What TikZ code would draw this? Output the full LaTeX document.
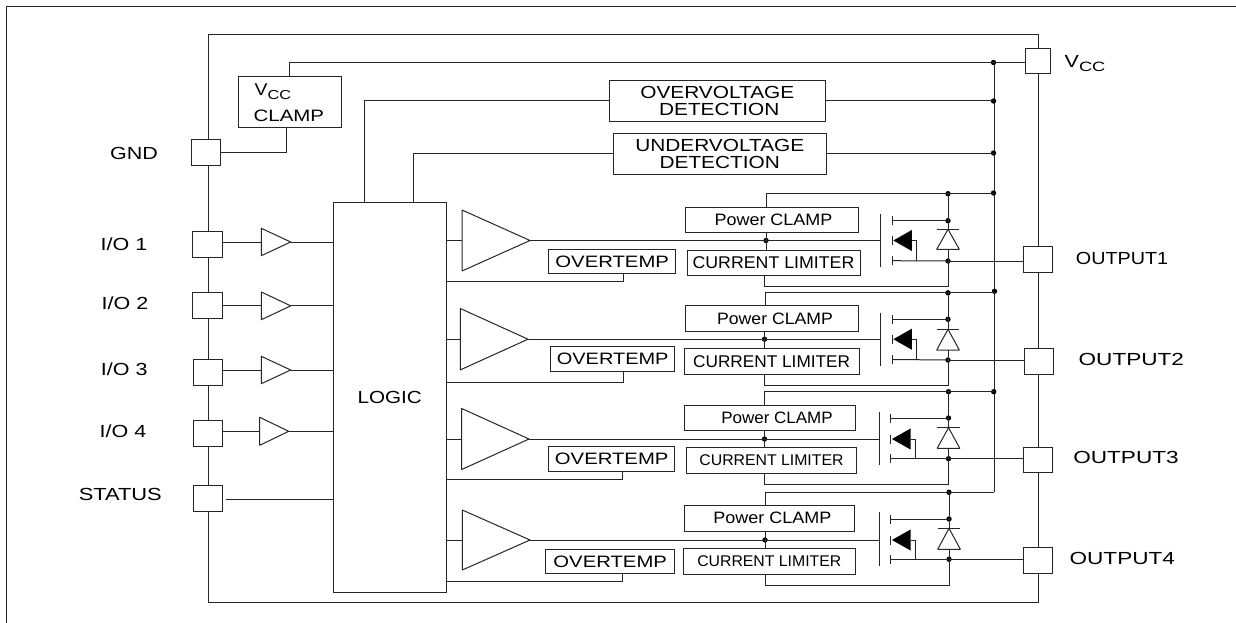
\documentclass[tikz,border=0pt]{standalone}
\usepackage{graphicx}
\usepackage{fontspec}
\setmainfont{Liberation Sans}
\newcommand\T[3]{{\fontsize{#1}{#1}\selectfont\scalebox{#2}[1]{#3}}}
\newcommand\bx[6]{\node[boxst,minimum width={(#4-#2)*1pt},minimum height={(#5-#3)*1pt}] (#1) at ({(#2+#4)/2},{(#3+#5)/2}) {#6};}
\newcommand\lab[4]{\node[labst] (#1) at (#2,#3) {#4};}
\newcommand\jn[3]{\coordinate (#1) at (#2,#3);\fill (#1) circle (2.7);}
% amplifier / buffer triangle: name, left x, top y, tip x, bottom y
\newcommand\amp[5]{\coordinate (#1in) at (#2,{(#3+#5)/2});\coordinate (#1out) at (#4,{(#3+#5)/2});
  \draw[wire,fill=white,line join=round] (#2,#3) -- (#1out) -- (#2,#5) -- cycle;}
% MOSFET: n, gate x, top, bottom, drain y, source y, mid y
\newcommand\fet[7]{\coordinate (#1g) at (#2,#7);\coordinate (#1d) at ({#2+11.7},#5);\coordinate (#1s) at ({#2+11.7},#6);
  \draw[wire] (#2,#3) -- (#2,#4);
  \draw[wire] ({#2+11.7},{#5-4.5}) -- ({#2+11.7},{#5+4.5});
  \draw[wire] ({#2+11.7},{#7-4.5}) -- ({#2+11.7},{#7+4.5});
  \draw[wire] ({#2+11.7},{#6-4.5}) -- ({#2+11.7},{#6+4.5});
  \fill ({#2+13},#7) -- ({#2+31.5},{#7-10.5}) -- ({#2+31.5},{#7+10.5}) -- cycle;
  \draw[wire] ({#2+31.5},#7) -- ({#2+36.3},#7) -- ({#2+36.3},#6);}
% diode: name, x, bar y, base y
\newcommand\dio[4]{\coordinate (#1a) at (#2,#3);\coordinate (#1k) at (#2,#4);
  \draw[wire] ({#2-11.3},#3) -- ({#2+11.3},#3);
  \draw[wire,line join=round] (#2,#3) -- ({#2-11.3},#4) -- ({#2+11.3},#4) -- cycle;}
\tikzset{
  wire/.style={line width=1pt,draw=black!85},
  boxst/.style={draw=black!85,line width=1pt,fill=white,inner sep=0pt,outer sep=0pt,align=center,text=black},
  labst/.style={inner sep=0pt,outer sep=0pt,text=black,align=center}
}
\begin{document}
\begin{tikzpicture}[x=1pt,y=-1pt]
\useasboundingbox (0,0) rectangle (1236,623);
\fill[white] (0,0) rectangle (1236,623);
% outer frame and chip outline
\coordinate (fa) at (6.5,623);\coordinate (fb) at (6.5,7);\coordinate (fc) at (1236,7);
\draw[wire] (fa) -- (fb) -- (fc);
\coordinate (ca) at (208.5,34.7);\coordinate (cb) at (1038,34.7);\coordinate (cc) at (1038,602.5);\coordinate (cd) at (208.5,602.5);
\draw[wire] (ca) -- (cb) -- (cc) -- (cd) -- cycle;

% bus
\coordinate (bt) at (994,62.5);\coordinate (bb) at (994,492.3);
\draw[wire] (bt) -- (bb);

% pins
\bx{pgnd}{191.7}{139.3}{220.7}{165}{}
\bx{pio1}{192.7}{231.7}{222}{257.3}{}
\bx{pio2}{192.7}{292.3}{222}{318}{}
\bx{pio3}{193.7}{359.7}{222.7}{385}{}
\bx{pio4}{193.7}{420.3}{222.7}{446}{}
\bx{psta}{193.7}{485.7}{222.7}{511.3}{}
\bx{pvcc}{1025}{48.3}{1050.3}{74}{}
\bx{pou1}{1023.3}{246.7}{1052.7}{272.3}{}
\bx{pou2}{1024.3}{348.3}{1053.3}{374.3}{}
\bx{pou3}{1023.7}{447}{1052.7}{472.7}{}
\bx{pou4}{1023.7}{547.3}{1052.3}{573.3}{}

% blocks
\bx{clamp}{238.3}{77}{341}{127.3}{%
 \begin{minipage}{72pt}\raggedright\vspace*{1.5pt}\hspace*{1pt}\T{17}{1.14}{V}\raisebox{-3.5pt}{\T{13}{1.25}{CC}}\\[10pt]\T{16.5}{1.24}{CLAMP}\end{minipage}}
\bx{ov}{609}{81}{825.5}{121.3}{\T{17.5}{1.19}{OVERVOLTAGE}\\[3.5pt]\hspace*{4pt}\T{17.5}{1.19}{DETECTION}}
\bx{uv}{613}{133.3}{826.5}{174.3}{\T{17.5}{1.19}{UNDERVOLTAGE}\\[4pt]\T{17.5}{1.19}{DETECTION}}
\bx{logic}{333.3}{202}{446}{592.7}{\T{17.5}{1.18}{LOGIC}}

% row 1
\bx{pc1}{685.7}{207.3}{858.3}{232.7}{\hspace*{3pt}\T{16.5}{1.09}{Power CLAMP}}
\bx{cl1}{687}{250}{860}{275.7}{\T{17}{1.045}{CURRENT LIMITER}}
\bx{ot1}{548.7}{249.3}{675.7}{273.7}{\T{16.5}{1.23}{OVERTEMP}}
% row 2
\bx{pc2}{685.7}{305.7}{858.3}{331.3}{\hspace*{6pt}\T{16.5}{1.07}{Power CLAMP}}
\bx{cl2}{684.3}{348.3}{859}{374.3}{\T{17}{1.014}{CURRENT LIMITER}}
\bx{ot2}{550.7}{346.3}{674.7}{371}{\T{16.5}{1.21}{OVERTEMP}}
% row 3
\bx{pc3}{684.3}{405}{855.7}{430.7}{\hspace*{14pt}\T{16.5}{1.03}{Power CLAMP}}
\bx{cl3}{686.7}{447.7}{856.3}{473.3}{\T{15.5}{1.02}{CURRENT LIMITER}}
\bx{ot3}{548.7}{446.3}{674.7}{471}{\T{16.5}{1.23}{OVERTEMP}}
% row 4
\bx{pc4}{684.3}{505.3}{854.3}{531}{\hspace*{6pt}\T{16.5}{1.09}{Power CLAMP}}
\bx{cl4}{683.3}{548.3}{855.3}{574}{\T{15.5}{1.02}{CURRENT LIMITER}}
\bx{ot4}{545.7}{549.3}{674.7}{573.7}{\T{16.5}{1.23}{OVERTEMP}}

% input buffers
\amp{b1}{261.3}{228.3}{290.7}{255.7}
\amp{b2}{261.3}{292}{290.7}{319.7}
\amp{b3}{261.3}{356.3}{290.7}{383.7}
\amp{b4}{259.7}{417.3}{288.7}{445.3}
\draw[wire] (pio1.east |- b1in) -- (b1in);\draw[wire] (b1out) -- (logic.west |- b1out);
\draw[wire] (pio2.east |- b2in) -- (b2in);\draw[wire] (b2out) -- (logic.west |- b2out);
\draw[wire] (pio3.east |- b3in) -- (b3in);\draw[wire] (b3out) -- (logic.west |- b3out);
\draw[wire] (pio4.east |- b4in) -- (b4in);\draw[wire] (b4out) -- (logic.west |- b4out);
\coordinate (stat) at (225.7,499.3);
\draw[wire] (stat) -- (logic.west |- stat);

% output amplifiers
\amp{a1}{462}{210}{530}{271}
\amp{a2}{460.3}{308.5}{528}{369.9}
\amp{a3}{461.7}{408.5}{529}{469.5}
\amp{a4}{462.3}{510}{530}{570}
\foreach \n in {1,2,3,4}{\draw[wire] (logic.east |- a\n in) -- (a\n in);}

% overtemp returns
\draw[wire] (ot1.south -| 623.3,0) -- (623.3,281) -- (logic.east |- 0,281);
\draw[wire] (ot2.south -| 623.7,0) -- (623.7,382) -- (logic.east |- 0,382);
\draw[wire] (ot3.south -| 622,0) -- (622,479.3) -- (logic.east |- 0,479.3);
\draw[wire] (ot4.south -| 622,0) -- (622,581.7) -- (logic.east |- 0,581.7);

% power switches
\fet{f1}{880.3}{214.3}{267}{220.7}{260.7}{240.5}
\fet{f2}{880.3}{313}{366.3}{319.3}{359.5}{339.2}
\fet{f3}{879}{412.3}{465.3}{418}{458.7}{439}
\fet{f4}{879}{512.3}{566}{519}{559.3}{540}
\dio{d1}{948}{229.3}{249.3}
\dio{d2}{948}{329.3}{350}
\dio{d3}{948.5}{427.7}{448.3}
\dio{d4}{949}{528.3}{549.3}

% row wiring
\jn{t1}{948}{193.7}\jn{m1}{766}{240.5}\jn{dd1}{948}{220.7}\jn{ss1}{948}{261}
\jn{t2}{948}{292.8}\jn{m2}{764.5}{339.2}\jn{dd2}{948}{319.3}\jn{ss2}{948}{360}
\jn{t3}{948.5}{391.7}\jn{m3}{764.5}{439}\jn{dd3}{948.5}{418}\jn{ss3}{948.5}{458.7}
\jn{t4}{949}{492.3}\jn{m4}{765}{540}\jn{dd4}{949}{519}\jn{ss4}{949}{559.3}
\jn{bj1}{993.5}{193}\jn{bj2}{994.5}{291.3}\jn{bj3}{993.7}{391.7}
\draw[wire] (bj1 |- t1) -- (t1) -- (766,193.7) -- (pc1.north -| 766,0);
\draw[wire] (bj2 |- t2) -- (t2) -- (765,292.8) -- (pc2.north -| 765,0);
\draw[wire] (bj3 |- t3) -- (t3) -- (764.5,391.7) -- (pc3.north -| 764.5,0);
\draw[wire] (bb) -- (t4) -- (765,492.3) -- (pc4.north -| 765,0);
\foreach \n in {1,2,3,4}{
  \draw[wire] (a\n out) -- (f\n g);
  \draw[wire] (pc\n.south -| m\n) -- (cl\n.north -| m\n);
  \draw[wire] (f\n d) -- (dd\n);
  \draw[wire] (f\n s) -- (ss\n);
  \draw[wire] (t\n) -- (d\n a);
  \draw[wire] (d\n k) -- (ss\n);
}
\draw[wire] (ss1) -- (948,286.3) -- (764.5,286.3) -- (cl1.south -| 764.5,0);
\draw[wire] (ss2) -- (948,385) -- (764.5,385) -- (cl2.south -| 764.5,0);
\draw[wire] (ss3) -- (948.5,484.3) -- (764.5,484.3) -- (cl3.south -| 764.5,0);
\draw[wire] (ss4) -- (949,585) -- (765,585) -- (cl4.south -| 765,0);
\draw[wire] (ss1) -- (pou1.west |- ss1);
\draw[wire] (ss2) -- (pou2.west |- ss2);
\draw[wire] (ss3) -- (pou3.west |- ss3);
\draw[wire] (ss4) -- (pou4.west |- ss4);

% top wiring
\jn{v1}{993.5}{62.5}\jn{v2}{993.5}{101}\jn{v3}{993.5}{153}
\draw[wire] (clamp.north -| 289,0) -- (289,62.5) -- (pvcc.west |- 0,62.5);
\draw[wire] (clamp.south -| 286.3,0) -- (286.3,152.3) -- (pgnd.east |- 0,152.3);
\draw[wire] (ov.east |- v2) -- (v2);
\draw[wire] (uv.east |- v3) -- (v3);
\draw[wire] (logic.north -| 364.5,0) -- (364.5,100.3) -- (ov.west |- 0,100.3);
\draw[wire] (logic.north -| 413,0) -- (413,153.7) -- (uv.west |- 0,153.7);

% pin labels
\lab{lgnd}{134}{153}{\T{17.5}{1.23}{GND}}
\lab{lio1}{124}{244.5}{\T{17.5}{1.23}{I/O 1}}
\lab{lio2}{125}{303.7}{\T{17.5}{1.23}{I/O 2}}
\lab{lio3}{124.3}{369.7}{\T{17.5}{1.23}{I/O 3}}
\lab{lio4}{123}{431.3}{\T{17.5}{1.23}{I/O 4}}
\lab{lsta}{120.3}{494}{\T{17.5}{1.25}{STATUS}}
\lab{lou1}{1122}{258.5}{\T{17.5}{1.13}{OUTPUT1}}
\lab{lou2}{1131.3}{359}{\T{17.5}{1.29}{OUTPUT2}}
\lab{lou3}{1126}{457.7}{\T{17.5}{1.29}{OUTPUT3}}
\lab{lou4}{1122.3}{558}{\T{17.5}{1.29}{OUTPUT4}}
\lab{lvcc}{1085}{64}{\T{17.5}{1.23}{V}\raisebox{-4pt}{\T{13.5}{1.35}{CC}}}
\end{tikzpicture}
\end{document}
